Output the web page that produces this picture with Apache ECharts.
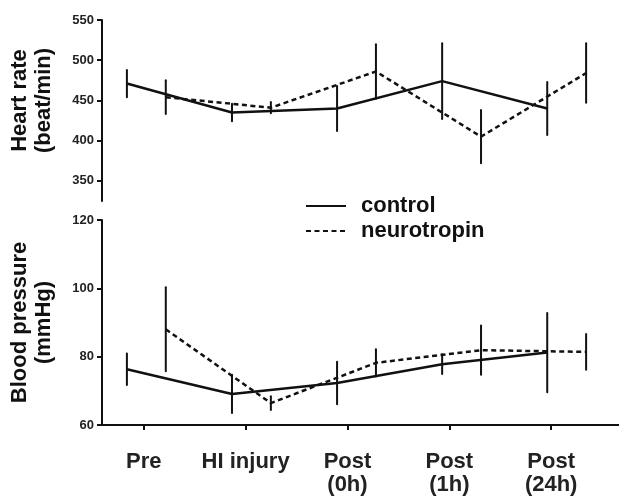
<!DOCTYPE html>
<html>
<head>
<meta charset="utf-8">
<script src="https://cdn.jsdelivr.net/npm/echarts@6/dist/echarts.min.js"></script>
<style>
  html, body { margin: 0; padding: 0; background: #fff; }
  #chart { width: 619px; height: 499px; }
</style>
</head>
<body>
<div id="chart"></div>
<script>
  var categories = ["Pre", "HI injury", "Post\n(0h)", "Post\n(1h)", "Post\n(24h)"];

  // heart rate (beat/min), mean and error
  var hrControl = [471, 435, 440, 474, 440];
  var hrControlErr = [17, 11, 28, 47, 33];
  var hrNeuro = [454, 441, 486, 405, 484];
  var hrNeuroErr = [21, 7, 34, 33, 37];

  // blood pressure (mmHg), mean and error
  var bpControl = [76.3, 69.1, 72.3, 77.8, 81.2];
  var bpControlErr = [4.6, 5.6, 6.2, 2.9, 11.6];
  var bpNeuro = [88.0, 66.4, 78.2, 81.9, 81.4];
  var bpNeuroErr = [12.3, 2.0, 4.0, 7.2, 5.2];

  var hrTicks = [350, 400, 450, 500, 550];

  var FONT = "Liberation Sans, Arial, sans-serif";
  var neuroShift = 0.37; // neurotropin points sit a bit right of control

  function pts(vals, shift) {
    return vals.map(function (v, i) { return [i + shift, v]; });
  }
  function errs(vals, e, shift) {
    return vals.map(function (v, i) { return [i + shift, v - e[i], v + e[i]]; });
  }
  function errBar(params, api) {
    var x = api.value(0);
    var p1 = api.coord([x, api.value(1)]);
    var p2 = api.coord([x, api.value(2)]);
    return {
      type: "line",
      shape: { x1: p1[0], y1: p1[1], x2: p2[0], y2: p2[1] },
      style: { stroke: "#111", lineWidth: 2, lineCap: "round" }
    };
  }

  var chart = echarts.init(document.getElementById("chart"));

  var dataAxis = { type: "value", min: -0.237, max: 4.683, show: false, position: "bottom" };
  var lineSolid = { color: "#111", width: 2.5, type: "solid" };
  var lineDash = { color: "#111", width: 2.5, type: [5, 3.5] };
  var labelStyle = { color: "#222", fontFamily: FONT, fontWeight: "bold" };

  chart.setOption({
    animation: false,
    backgroundColor: "#fff",
    grid: [
      { left: 100, right: 0, top: 20, height: 181 },
      { left: 100, right: 0, top: 220, height: 205 }
    ],
    legend: {
      orient: "vertical",
      left: 300,
      top: 189,
      itemWidth: 40,
      itemHeight: 14,
      itemGap: 1,
      data: ["control", "neurotropin"],
      itemStyle: { color: "rgba(0,0,0,0)", borderColor: "rgba(0,0,0,0)", borderWidth: 0 },
      textStyle: { color: "#111", fontFamily: FONT, fontWeight: "bold", fontSize: 22, lineHeight: 24, padding: [0, 0, 0, 10] }
    },
    xAxis: [
      Object.assign({ gridIndex: 0 }, dataAxis),
      Object.assign({ gridIndex: 1 }, dataAxis),
      {
        gridIndex: 1,
        type: "value",
        position: "bottom",
        min: -0.41,
        max: 4.666,
        axisLine: { show: true, onZero: false, lineStyle: { color: "#111", width: 2 } },
        axisTick: { show: true, length: 5, customValues: [0, 1, 2, 3, 4], lineStyle: { color: "#111", width: 2 } },
        axisLabel: Object.assign({
          customValues: [0, 1, 2, 3, 4],
          fontSize: 22,
          lineHeight: 23,
          margin: 25,
          formatter: function (v) { return categories[Math.round(v)]; }
        }, labelStyle),
        splitLine: { show: false }
      }
    ],
    yAxis: [
      {
        gridIndex: 0,
        type: "value",
        min: 325,
        max: 550,
        name: "Heart rate\n(beat/min)",
        nameLocation: "middle",
        nameGap: 46,
        nameTextStyle: { color: "#111", fontFamily: FONT, fontWeight: "bold", fontSize: 22, lineHeight: 24, padding: [0, 0, 0, 20] },
        axisLine: { show: true, onZero: false, lineStyle: { color: "#111", width: 2 } },
        axisTick: { show: true, length: 5, customValues: hrTicks, lineStyle: { color: "#111", width: 2 } },
        axisLabel: Object.assign({ customValues: hrTicks, fontSize: 13, margin: 8 }, labelStyle),
        splitLine: { show: false }
      },
      {
        gridIndex: 1,
        type: "value",
        min: 60,
        max: 120,
        interval: 20,
        name: "Blood pressure\n(mmHg)",
        nameLocation: "middle",
        nameGap: 46,
        nameTextStyle: { color: "#111", fontFamily: FONT, fontWeight: "bold", fontSize: 22, lineHeight: 24 },
        axisLine: { show: true, onZero: false, lineStyle: { color: "#111", width: 2 } },
        axisTick: { show: true, length: 5, lineStyle: { color: "#111", width: 2 } },
        axisLabel: Object.assign({ fontSize: 13, margin: 8 }, labelStyle),
        splitLine: { show: false }
      }
    ],
    series: [
      { name: "control", type: "line", xAxisIndex: 0, yAxisIndex: 0, symbol: "none", lineStyle: lineSolid, itemStyle: { color: "#111" }, data: pts(hrControl, 0) },
      { name: "neurotropin", type: "line", xAxisIndex: 0, yAxisIndex: 0, symbol: "none", lineStyle: lineDash, itemStyle: { color: "#111" }, data: pts(hrNeuro, neuroShift) },
      { type: "custom", xAxisIndex: 0, yAxisIndex: 0, renderItem: errBar, data: errs(hrControl, hrControlErr, 0) },
      { type: "custom", xAxisIndex: 0, yAxisIndex: 0, renderItem: errBar, data: errs(hrNeuro, hrNeuroErr, neuroShift) },
      { name: "control", type: "line", xAxisIndex: 1, yAxisIndex: 1, symbol: "none", lineStyle: lineSolid, itemStyle: { color: "#111" }, data: pts(bpControl, 0) },
      { name: "neurotropin", type: "line", xAxisIndex: 1, yAxisIndex: 1, symbol: "none", lineStyle: lineDash, itemStyle: { color: "#111" }, data: pts(bpNeuro, neuroShift) },
      { type: "custom", xAxisIndex: 1, yAxisIndex: 1, renderItem: errBar, data: errs(bpControl, bpControlErr, 0) },
      { type: "custom", xAxisIndex: 1, yAxisIndex: 1, renderItem: errBar, data: errs(bpNeuro, bpNeuroErr, neuroShift) }
    ]
  });
</script>
</body>
</html>
